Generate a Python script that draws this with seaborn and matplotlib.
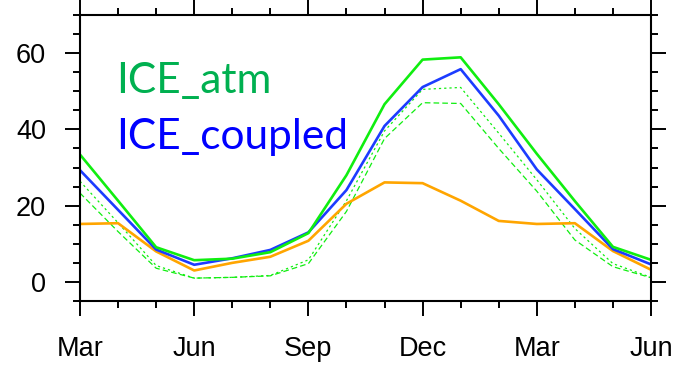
import numpy as np
import pandas as pd
import matplotlib
matplotlib.use("Agg")
import matplotlib.pyplot as plt
from matplotlib.ticker import MultipleLocator, FixedLocator
import seaborn as sns

# Monthly series, March through June of the following year
months = ["Mar", "Apr", "May", "Jun", "Jul", "Aug", "Sep", "Oct", "Nov",
          "Dec", "Jan", "Feb", "Mar", "Apr", "May", "Jun"]
tick_labels = ["Mar", "Jun", "Sep", "Dec", "Mar", "Jun"]

ice_atm = [33.4, 21.3, 9.1, 5.7, 6.1, 7.8, 12.8, 28.0, 46.6, 58.3,
           58.9, 46.6, 33.6, 21.2, 9.2, 5.8]
ice_coupled = [29.3, 18.9, 8.5, 4.5, 6.2, 8.4, 13.0, 24.1, 40.9, 51.1,
               55.8, 43.6, 29.5, 19.1, 8.6, 4.6]
obs = [15.2, 15.4, 8.0, 3.0, 5.0, 6.6, 10.8, 20.5, 26.1, 25.9,
       21.3, 16.0, 15.2, 15.4, 8.1, 3.2]
ice_atm_upper = [26.4, 15.5, 4.3, 1.0, 1.2, 1.7, 5.8, 21.3, 39.6, 50.5,
                 51.0, 39.0, 26.8, 14.0, 4.8, 1.2]
ice_atm_lower = [23.3, 13.2, 3.6, 1.0, 1.2, 1.6, 4.8, 18.5, 37.6, 47.0,
                 46.8, 35.0, 23.8, 11.0, 4.0, 1.1]

sns.set_theme(style="white")
plt.rcParams["font.family"] = ["Liberation Sans", "DejaVu Sans"]

t = np.arange(len(months))
df = pd.DataFrame({
    "t": t,
    "ice_atm": ice_atm,
    "ice_coupled": ice_coupled,
    "obs": obs,
    "upper": ice_atm_upper,
    "lower": ice_atm_lower,
})

fig = plt.figure(figsize=(6.76, 3.65), dpi=100)
ax = fig.add_axes([80 / 676, 1 - 301 / 365, 571 / 676, 286 / 365])

green_line = "#10ee10"
sns.lineplot(data=df, x="t", y="upper", ax=ax, color=green_line, lw=0.9,
             linestyle=(0, (1.8, 2.4)))
sns.lineplot(data=df, x="t", y="lower", ax=ax, color=green_line, lw=0.9,
             linestyle=(0, (4.5, 2.5)))
sns.lineplot(data=df, x="t", y="obs", ax=ax, color="#ffa500", lw=1.9)
sns.lineplot(data=df, x="t", y="ice_coupled", ax=ax, color="#1c3cff", lw=1.9)
sns.lineplot(data=df, x="t", y="ice_atm", ax=ax, color=green_line, lw=1.9)

ax.set_xlim(0, len(months) - 1)
ax.set_ylim(-5, 70)
ax.set_xlabel("")
ax.set_ylabel("")

ax.xaxis.set_major_locator(FixedLocator(np.arange(0, 16, 3)))
ax.set_xticklabels(tick_labels)
ax.xaxis.set_minor_locator(MultipleLocator(1))
ax.yaxis.set_major_locator(FixedLocator([0, 20, 40, 60]))
ax.yaxis.set_minor_locator(MultipleLocator(5))

for s in ax.spines.values():
    s.set_color("black")
    s.set_linewidth(1.5)

ax.tick_params(which="both", direction="out", top=True, right=True,
               bottom=True, left=True, color="black", width=1.4)
ax.tick_params(which="major", length=10.5)
ax.tick_params(which="minor", length=5)
ax.tick_params(axis="x", which="major", labelsize=19.5, pad=15,
               labelcolor="black")
ax.tick_params(axis="y", which="major", labelsize=19.5, pad=14,
               labelcolor="black")

ax.text(0.064, 0.728, "ICE_atm", transform=ax.transAxes, color="#00b050",
        fontsize=30.5, family=["Lato", "DejaVu Sans"], va="baseline", ha="left")
ax.text(0.064, 0.531, "ICE_coupled", transform=ax.transAxes, color="#0000ff",
        fontsize=30.5, family=["Lato", "DejaVu Sans"], va="baseline", ha="left")

fig.savefig("out.png", dpi=100)
